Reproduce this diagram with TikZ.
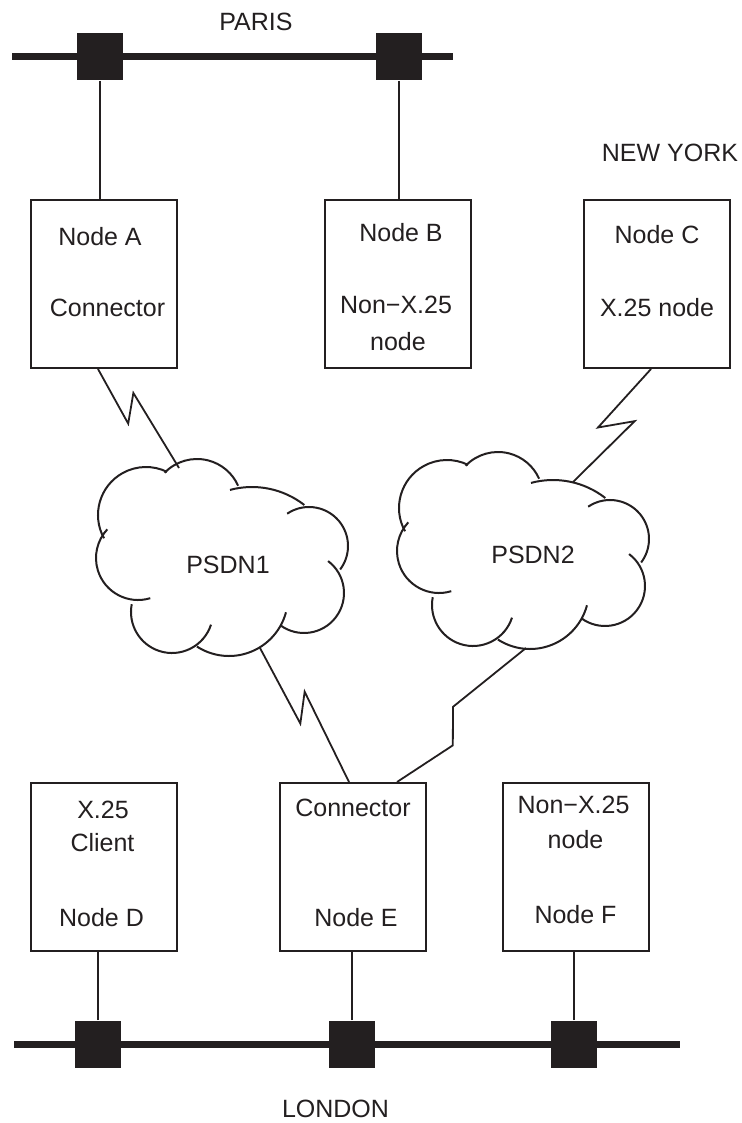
\documentclass[tikz,border=0pt]{standalone}
\usepackage{fontspec}
\setmainfont{Liberation Sans}
\usetikzlibrary{calc}
\definecolor{ink}{RGB}{35,31,32}

\tikzset{
  station/.style={draw=ink, line width=1pt, minimum width=73pt, minimum height=84pt, inner sep=0pt},
  lbl/.style={text=ink, font=\fontsize{12.5}{15}\selectfont, inner sep=0pt},
  tap/.style={fill=ink, minimum width=23pt, minimum height=23.5pt, inner sep=0pt},
  puff/.style={draw=ink, line width=1pt},
  bus/.style={draw=ink, line width=3.5pt},
  drop/.style={draw=ink, line width=0.8pt},
  link/.style={draw=ink, line width=0.9pt},
  bolt/.style n args={4}{to path={-- ($(\tikztostart)!#1!(\tikztotarget)!#2!-90:(\tikztotarget)$)
    -- ($(\tikztostart)!#3!(\tikztotarget)!#4!-90:(\tikztotarget)$) -- (\tikztotarget)}}
}

% outline of a cloud round a named centre
\newcommand{\netcloud}[1]{%
  \foreach \dx/\dy/\rad/\a/\b in {-25/-54/45/-136/-24, 30/14/85/-105/-52, 87/-12/39/-124/37,
      82/35/40/-53/126, 7/39/59/15/123, -50/54/41/18/191, -84/0/42/73/223, -76/-43/48/151/296}
    \draw[puff] ($(#1)+(\dx,\dy)+(\a:\rad)$) arc[start angle=\a, end angle=\b, radius=\rad];
}

\begin{document}
\begin{tikzpicture}[x=0.5pt,y=-0.5pt]
\useasboundingbox (0,0) rectangle (741,1123);

% PARIS
\coordinate (parisW) at (12,57);
\coordinate (parisE) at (453,57);
\draw[bus] (parisW) -- (parisE);
\node[tap] (tapA) at (100,57) {};
\node[tap] (tapB) at (399,57) {};
\node[lbl] at (256,22) {PARIS};

\node[station] (boxA) at (104,284) {};
\node[station] (boxB) at (398,284) {};
\node[station] (boxC) at (656.5,284) {};
\node[lbl] at (670,153) {NEW YORK};

\node[lbl] at (100,237) {Node A};
\node[lbl] at (107.5,308) {Connector};
\node[lbl] at (401,233) {Node B};
\node[lbl] at (396,305) {Non−X.25};
\node[lbl] at (398,342) {node};
\node[lbl] at (657,235) {Node C};
\node[lbl] at (657,308) {X.25 node};

\draw[drop] (tapA.south) -- (tapA.south |- boxA.north);
\draw[drop] (tapB.south) -- (tapB.south |- boxB.north);

% clouds
\coordinate (cloud1) at (222,558);
\coordinate (cloud2) at (523,551);
\netcloud{cloud1}
\netcloud{cloud2}
\node[lbl] (psdn1) at (228,565) {PSDN1};
\node[lbl] (psdn2) at (533,555) {PSDN2};

% LONDON
\node[station] (boxD) at (104,867) {};
\node[station] (boxE) at (353,867) {};
\node[station] (boxF) at (575.5,867) {};

\node[lbl] at (103,810) {X.25};
\node[lbl] at (102.5,843) {Client};
\node[lbl] at (101.5,918) {Node D};
\node[lbl] at (353,808) {Connector};
\node[lbl] at (356,918) {Node E};
\node[lbl] at (573.5,805) {Non−X.25};
\node[lbl] at (575.5,840) {node};
\node[lbl] at (575.5,915) {Node F};

\coordinate (londonW) at (14,1044);
\coordinate (londonE) at (680,1044);
\draw[bus] (londonW) -- (londonE);
\node[tap] (tapD) at (98,1044) {};
\node[tap] (tapE) at (352,1044) {};
\node[tap] (tapF) at (574,1044) {};
\node[lbl] at (335.5,1109) {LONDON};

\draw[drop] (tapD.north) -- (tapD.north |- boxD.south);
\draw[drop] (tapE.north) -- (tapE.north |- boxE.south);
\draw[drop] (tapF.north) -- (tapF.north |- boxF.south);

% radio links
\coordinate (boltA) at ($(boxA.south)+(-6,0)$);
\coordinate (boltC) at ($(boxC.south)+(-5.5,0)$);
\coordinate (boltE1) at ($(boxE.north)+(-4,0)$);
\coordinate (boltE2) at ($(boxE.north)+(44,0)$);
\coordinate (top1) at ($(cloud1)+(-43,-90)$);
\coordinate (top2) at ($(cloud2)+(50,-69)$);
\coordinate (low1) at ($(cloud1)+(38,90)$);
\coordinate (low2) at ($(cloud2)+(3,97)$);

\draw[link] (boltA) to[bolt={0.48}{5.6pt}{0.32}{-6.1pt}] (top1);
\draw[link] (boltC) to[bolt={0.57}{5.2pt}{0.38}{-8.1pt}] (top2);
\draw[link] (low1) to[bolt={0.53}{4.1pt}{0.38}{-6.5pt}] (boltE1);
\draw[link] (low2) to[bolt={0.50}{5.9pt}{0.65}{-7.4pt}] (boltE2);

\end{tikzpicture}
\end{document}
